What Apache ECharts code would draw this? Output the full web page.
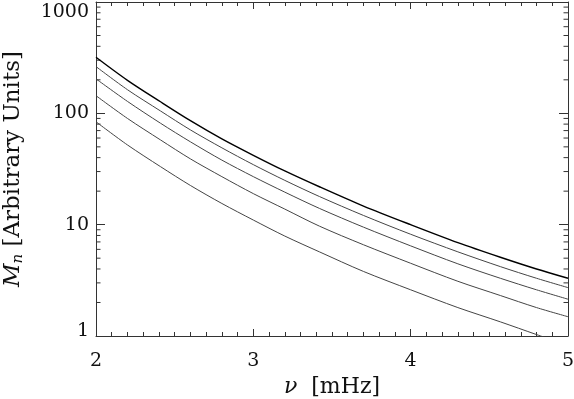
<!DOCTYPE html>
<html>
<head>
<meta charset="utf-8">
<script src="https://cdn.jsdelivr.net/npm/echarts@6/dist/echarts.min.js"></script>
<style>html,body{margin:0;padding:0;background:#fff}#c{width:574px;height:399px}</style>
</head>
<body>
<div id="c"></div>
<script>
// ---- data ----
var nu     = [2.0, 2.2, 2.41, 2.6, 2.8, 3.0, 3.2, 3.42, 3.7, 4.0, 4.3, 4.57, 4.8, 5.0];
var curve1 = [319, 198, 127, 86, 59, 42, 30.4, 21.9, 14.7, 10.0, 6.9, 5.1, 4.0, 3.30];
var curve2 = [263, 163, 105, 71, 49, 34.6, 25, 17.9, 12.1, 8.2, 5.7, 4.2, 3.3, 2.72];
var curve3 = [204, 128, 81.5, 55.5, 38, 27, 19.6, 14.0, 9.5, 6.45, 4.45, 3.3, 2.6, 2.14];
var curve4 = [144, 90, 57.7, 39, 27, 19, 13.8, 9.7, 6.6, 4.5, 3.1, 2.31, 1.8, 1.49];
var curve5 = [84, 52, 33.2, 22.5, 15.5, 11, 7.9, 5.7, 3.8, 2.6, 1.8, 1.34, 1.03, 0.82];
var xTicks = [2, 3, 4, 5];
var yTicks = [1, 10, 100, 1000];
var yMinorTicks = [];
[1, 10, 100].forEach(function (d) { for (var k = 2; k <= 9; k++) yMinorTicks.push(k * d); });

function pairs(ys) { return nu.map(function (x, i) { return [x, ys[i]]; }); }

var FONT = '"DejaVu Serif", serif';
var AX = '#333';
var TXT = '#111';

var chart = echarts.init(document.getElementById('c'), null, {renderer: 'canvas'});
var common = {
  axisLine: {show: true, lineStyle: {color: AX, width: 1}},
  splitLine: {show: false}
};
function lineSeries(ys, color, width) {
  return {type: 'line', data: pairs(ys), smooth: 0.3, symbol: 'none', clip: true,
    lineStyle: {color: color, width: width}, xAxisIndex: 0, yAxisIndex: 0, silent: true};
}
var yMin = yTicks[0], yMax = yTicks[yTicks.length - 1];
chart.setOption({
  animation: false,
  grid: {left: 96, right: 6, top: 2, bottom: 63, containLabel: false, outerBoundsMode: 'none'},
  xAxis: [
    Object.assign({
      type: 'value', min: xTicks[0], max: xTicks[xTicks.length - 1], interval: 1,
      position: 'bottom',
      axisTick: {show: true, inside: true, length: 7, lineStyle: {color: AX}},
      minorTick: {show: true, splitNumber: 10, length: 4, lineStyle: {color: AX}},
      axisLabel: {margin: 16, fontFamily: FONT, fontSize: 19, color: TXT,
        formatter: function (v) { return String(v); }},
      name: '{i|ν}  [mHz]', nameLocation: 'middle', nameGap: 36,
      nameTextStyle: {fontFamily: FONT, fontSize: 22, color: TXT,
        rich: {i: {fontFamily: FONT, fontStyle: 'italic', fontSize: 22, color: TXT}}}
    }, common),
    Object.assign({
      type: 'value', min: xTicks[0], max: xTicks[xTicks.length - 1], interval: 1,
      position: 'top',
      axisTick: {show: true, inside: true, length: 7, lineStyle: {color: AX}},
      minorTick: {show: true, splitNumber: 10, length: 4, lineStyle: {color: AX}},
      axisLabel: {show: false}
    }, common)
  ],
  yAxis: [
    Object.assign({
      type: 'log', logBase: 10, min: yMin, max: yMax,
      position: 'left',
      axisTick: {show: true, inside: true, length: 9, lineStyle: {color: AX}},
      axisLabel: {margin: 7, fontFamily: FONT, fontSize: 19, color: TXT,
        formatter: function (v) {
          var s = String(Math.round(v));
          if (Math.round(v) === yMax) return '{top|' + s + '}';
          if (Math.round(v) === yMin) return '{bot|' + s + '}';
          return s;
        },
        rich: {
          top: {fontFamily: FONT, fontSize: 19, color: TXT, padding: [20, 0, 0, 0]},
          bot: {fontFamily: FONT, fontSize: 19, color: TXT, padding: [0, 0, 10, 0]}
        }},
      name: '{i|M}{s|n} [Arbitrary Units]', nameLocation: 'middle', nameGap: 70,
      nameTextStyle: {fontFamily: FONT, fontSize: 23, color: TXT,
        rich: {i: {fontFamily: FONT, fontStyle: 'italic', fontSize: 23, color: TXT},
               s: {fontFamily: FONT, fontStyle: 'italic', fontSize: 15, color: TXT, verticalAlign: 'bottom', padding: [10, 0, 0, 0]}}}
    }, common),
    Object.assign({
      type: 'log', logBase: 10, min: yMin, max: yMax,
      position: 'right',
      axisTick: {show: true, inside: true, length: 9, lineStyle: {color: AX}},
      axisLabel: {show: false}
    }, common)
  ],
  series: [
    lineSeries(curve5, '#444', 1),
    lineSeries(curve4, '#444', 1),
    lineSeries(curve3, '#444', 1),
    lineSeries(curve2, '#444', 1),
    lineSeries(curve1, '#000', 1.4),
    {
      type: 'custom', xAxisIndex: 0, yAxisIndex: 0, silent: true, clip: false,
      data: yMinorTicks.map(function (v) { return [v]; }),
      renderItem: function (params, api) {
        var v = api.value(0);
        var l = api.coord([xTicks[0], v]);
        var r = api.coord([xTicks[xTicks.length - 1], v]);
        var st = {stroke: AX, lineWidth: 1};
        return {type: 'group', children: [
          {type: 'line', shape: {x1: l[0], y1: l[1], x2: l[0] + 4.5, y2: l[1]}, style: st},
          {type: 'line', shape: {x1: r[0], y1: r[1], x2: r[0] - 4.5, y2: r[1]}, style: st}
        ]};
      }
    }
  ]
});
</script>
</body>
</html>
